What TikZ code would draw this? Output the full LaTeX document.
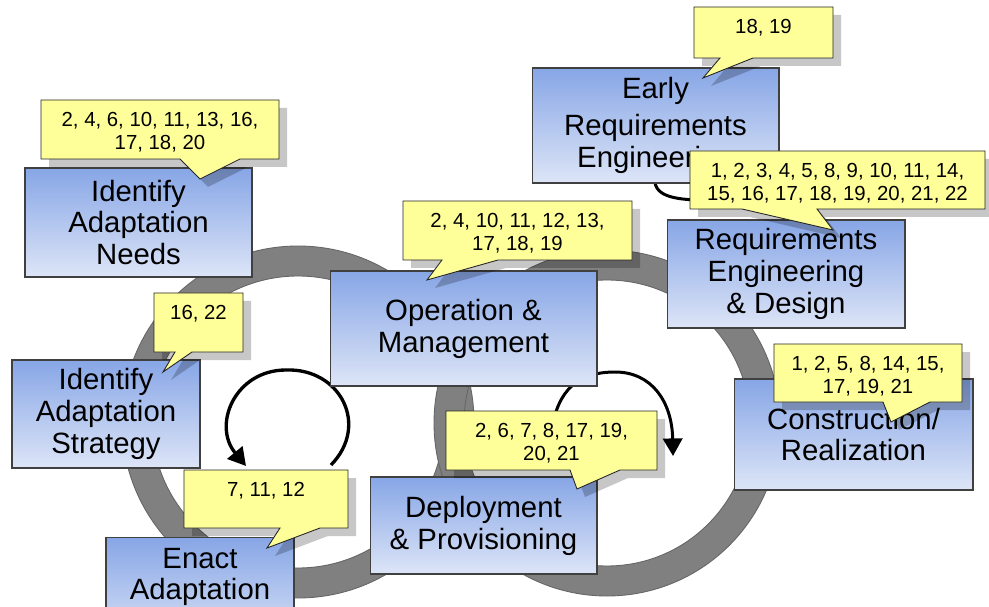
\documentclass[tikz,border=0pt]{standalone}
\usepackage{fontspec}
\setmainfont{Liberation Sans}
\usetikzlibrary{arrows.meta,positioning,calc}

\definecolor{phasetop}{HTML}{87A6E6}
\definecolor{phasebottom}{HTML}{DDE5F7}
\definecolor{notefill}{HTML}{FFFF99}
\definecolor{ringgray}{HTML}{808080}

% yellow number note: name, x1, y1, x2, y2, tail base left, tail base right, tail tip, text
\newcommand{\numnote}[9]{%
  \fill[noteshadow, shift={(8,8)}] (#2,#3) -- (#4,#3) -- (#4,#5) -- (#7,#5) -- (#8) -- (#6,#5) -- (#2,#5) -- cycle;
  \draw[note] (#2,#3) -- (#4,#3) -- (#4,#5) -- (#7,#5) -- (#8) -- (#6,#5) -- (#2,#5) -- cycle;
  \node[notetext] (#1) at ({(#2+#4)/2},{#3+12}) {#9};
}

\begin{document}
\begin{tikzpicture}[
  x=0.02cm, y=-0.02cm,
  phase/.style={draw=black!75, line width=0.6pt, top color=phasetop, bottom color=phasebottom,
                align=center, inner sep=0pt, font=\fontsize{16.7}{18.2}\selectfont},
  phaselabel/.style={align=center, inner sep=0pt, font=\fontsize{16.7}{17.6}\selectfont},
  ring/.style={fill=ringgray, draw=black!60, line width=0.5pt, even odd rule},
  loop/.style={line width=1.9pt, -{Triangle[length=10pt, width=11pt]}},
  note/.style={draw=black!85, line width=0.5pt, fill=notefill, line join=miter},
  noteshadow/.style={fill=black, opacity=0.22},
  notetext/.style={anchor=north, align=center, inner sep=0pt, font=\fontsize{11.6}{13.1}\selectfont}
]
\useasboundingbox (0,0) rectangle (989,607);
\clip (0,0) rectangle (989,607);

\draw[ring] (298,422) circle[radius=176] (298,422) circle[radius=146];
\draw[ring] (607,423) circle[radius=173] (607,423) circle[radius=143];

\coordinate (adaptstart) at (331,465);
\coordinate (adaptend)   at (246,466);
\coordinate (opsstart)   at (555,415);
\coordinate (opsend)     at (673,456);
\coordinate (earlystart) at (655,183);
\coordinate (earlyend)   at (720,200);

\draw[loop] (adaptstart) .. controls (370,425) and (340,368) .. (286,370)
                         .. controls (235,370) and (212,425) .. (adaptend);
\draw[loop, line width=1.7pt] (opsstart) .. controls (565,380) and (590,372) .. (615,372)
                         .. controls (652,372) and (672,402) .. (opsend);
\draw[line width=1.7pt] (earlystart) .. controls (658,198) and (680,201) .. (earlyend);

\node[phase, minimum width=4.54cm, minimum height=2.18cm] (needs)        at (138.5,222.5) {Identify\\Adaptation\\Needs};
\node[phase, minimum width=4.94cm, minimum height=2.30cm] (early)        at (655.5,125.5) {Early\\[3pt]Requirements\\Engineering};
\node[phase, minimum width=4.76cm, minimum height=2.16cm] (reqeng)       at (786,274)     {Requirements\\Engineering\\\& Design};
\node[phase, minimum width=5.34cm, minimum height=2.30cm] (operation)    at (463.5,328.5) {Operation \&\\Management};
\node[phase, minimum width=4.78cm, minimum height=2.22cm] (construction) at (853.5,434.5) {Construction/\\Realization};
\node[phase, minimum width=3.76cm, minimum height=2.16cm] (strategy)     at (106,414)     {Identify\\Adaptation\\Strategy};
\node[phase, minimum width=4.54cm, minimum height=1.94cm] (deploy)       at (483.5,525.5) {Deployment\\\& Provisioning};
\node[phase, minimum width=3.76cm, minimum height=2.16cm, anchor=north] (enact) at (200,537) {};
\node[phaselabel, anchor=north] (enactlabel) at (200,548) {Enact\\Adaptation};

\numnote{needsnote}{41}{100}{279}{159}{180}{240}{200,179}{2, 4, 6, 10, 11, 13, 16,\\17, 18, 20}
\numnote{earlynote}{694}{7}{833}{58}{720}{753}{703,78}{18, 19}
\numnote{reqengnote}{690}{151}{985}{209}{742}{817}{833,230}{1, 2, 3, 4, 5, 8, 9, 10, 11, 14,\\15, 16, 17, 18, 19, 20, 21, 22}
\numnote{operationnote}{403}{201}{632}{260}{442}{498}{427,280}{2, 4, 10, 11, 12, 13,\\17, 18, 19}
\numnote{strategynote}{154}{293}{243}{352}{175}{192}{163,372}{16, 22}
\numnote{enactnote}{184}{470}{348}{528}{280}{320}{267,548}{7, 11, 12}
\numnote{deploynote}{446}{411}{657}{470}{570}{620}{577,489}{2, 6, 7, 8, 17, 19,\\20, 21}
\numnote{constructionnote}{774}{344}{962}{402}{883}{930}{891,422}{1, 2, 5, 8, 14, 15,\\17, 19, 21}
\end{tikzpicture}
\end{document}
